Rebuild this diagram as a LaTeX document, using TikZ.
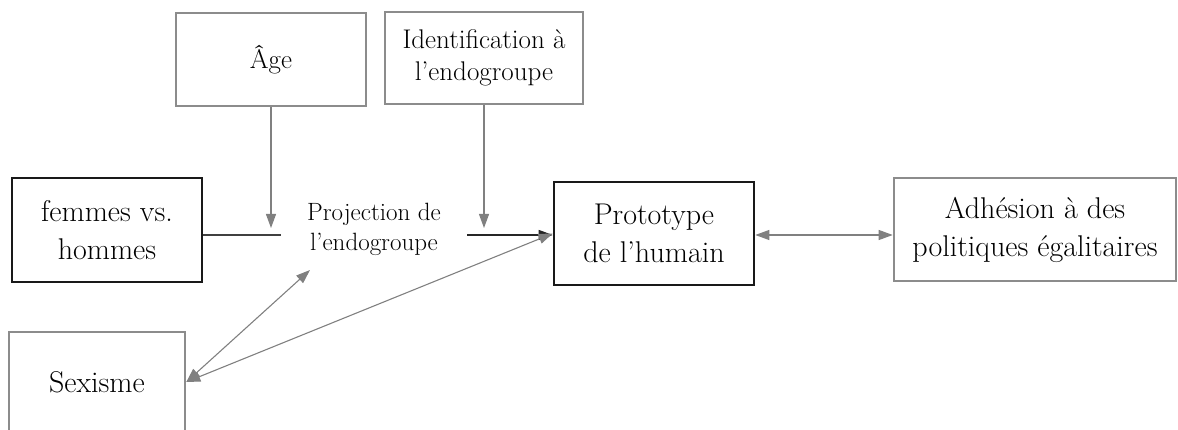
\documentclass[tikz,border=0pt]{standalone}
\usepackage{tikz}
\usetikzlibrary{arrows.meta, positioning}
\colorlet{Link}{black!50}
\colorlet{Frame}{black!45}

\begin{document}
\begin{tikzpicture}[
  x=1pt, y=-1pt,
  >={Triangle[length=14pt,width=10pt]},
  box/.style={rectangle, draw=Frame, line width=2.6pt, align=center, inner sep=0pt},
  keybox/.style={box, draw=black!90},
  bigtext/.style={font=\fontsize{30}{38}\selectfont},
  midtext/.style={font=\fontsize{27}{32}\selectfont},
  smalltext/.style={font=\fontsize{25}{30}\selectfont},
  link/.style={draw=Link, line width=1.1pt}
]
\useasboundingbox (0,0) rectangle (1178,430);

% variables
\node [box, midtext, minimum width=190pt, minimum height=93pt] (age) at (271,59.5) {Âge};
\node [box, midtext, minimum width=198pt, minimum height=92pt] (ident) at (484,58) {Identification à\\l’endogroupe};
\node [keybox, bigtext, minimum width=190pt, minimum height=104pt] (sexe) at (107,230) {femmes vs.\\hommes};
\node [smalltext, align=center] (proj) at (374,229) {Projection de\\l’endogroupe};
\node [keybox, bigtext, minimum width=200pt, minimum height=103pt] (proto) at (654,233.5) {Prototype\\de l’humain};
\node [box, bigtext, minimum width=282pt, minimum height=103pt] (adh) at (1035,229.5) {Adhésion à des\\politiques égalitaires};
\node [box, bigtext, minimum width=176pt, minimum height=100pt] (sex) at (97,382) {Sexisme};

% free ends
\coordinate (agein) at (271,228);
\coordinate (identin) at (484,228);
\coordinate (sexeout) at (281,235);
\coordinate (projout) at (467,235);
\coordinate (projin) at (310,270);

% links
\draw [link, ->] (age.south) -- (agein);
\draw [link, ->] (ident.south) -- (identin);
\draw [link, draw=black!75, line width=1.4pt] (sexe.east |- sexeout) -- (sexeout);
\draw [link, draw=black!85, line width=1.4pt, ->] (projout) -- (projout -| proto.west);
\draw [link, <->] (proto.east |- 0,235) -- (adh.west |- 0,235);
\draw [link, <->] (sex.east) -- (projin);
\draw [link, <->] (sex.east) -- (proto.west);
\end{tikzpicture}
\end{document}
